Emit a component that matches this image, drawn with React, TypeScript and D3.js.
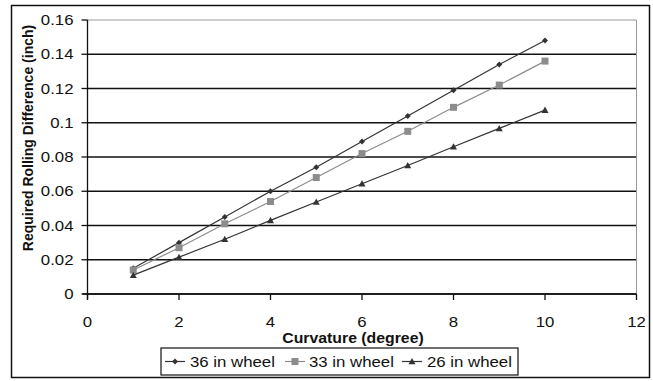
import React from "react";
import * as d3 from "d3";

const curvature = [1, 2, 3, 4, 5, 6, 7, 8, 9, 10];
const wheel36 = [0.015, 0.03, 0.045, 0.06, 0.074, 0.089, 0.104, 0.119, 0.134, 0.148];
const wheel33 = [0.014, 0.027, 0.041, 0.054, 0.068, 0.082, 0.095, 0.109, 0.122, 0.136];
const wheel26 = [0.011, 0.0215, 0.032, 0.043, 0.0537, 0.0644, 0.075, 0.086, 0.0967, 0.1074];
const xTicks = [0, 2, 4, 6, 8, 10, 12];
const yTicks = [0, 0.02, 0.04, 0.06, 0.08, 0.1, 0.12, 0.14, 0.16];
const seriesNames = ["36 in wheel", "33 in wheel", "26 in wheel"];

const W = 653;
const H = 381;
const L = 87.5, R = 636.5, T = 20, B = 294;
const SX = 1.2;

function HText(props: {
  x: number;
  y: number;
  anchor?: string;
  size?: number;
  bold?: boolean;
  sx?: number;
  children: React.ReactNode;
}) {
  const { x, y, anchor = "start", size = 14, bold = false, sx = SX, children } = props;
  return (
    <text
      transform={`translate(${x},${y}) scale(${sx},1)`}
      fontSize={size}
      fontWeight={bold ? "bold" : "normal"}
      textAnchor={anchor}
      fill="#111"
    >
      {children}
    </text>
  );
}

export default function App() {
  const x = d3.scaleLinear().domain([0, 12]).range([L, R]);
  const y = d3.scaleLinear().domain([0, 0.16]).range([B, T]);
  const line = d3
    .line<[number, number]>()
    .x((d) => x(d[0]))
    .y((d) => y(d[1]));

  const series = [
    { name: seriesNames[0], vals: wheel36, color: "#333", marker: "diamond" },
    { name: seriesNames[1], vals: wheel33, color: "#8c8c8c", marker: "square" },
    { name: seriesNames[2], vals: wheel26, color: "#333", marker: "triangle" },
  ];

  const marker = (type: string, cx: number, cy: number, color: string, k: string) => {
    if (type === "diamond") {
      const s = 3;
      return <path key={k} d={`M${cx},${cy - s}L${cx + s},${cy}L${cx},${cy + s}L${cx - s},${cy}Z`} fill={color} />;
    }
    if (type === "square") {
      const s = 3.5;
      return <rect key={k} x={cx - s} y={cy - s} width={2 * s} height={2 * s} fill={color} />;
    }
    const s = 3.5;
    return <path key={k} d={`M${cx},${cy - s}L${cx + s},${cy + s * 0.8}L${cx - s},${cy + s * 0.8}Z`} fill={color} />;
  };

  const font = "Liberation Sans, Arial, sans-serif";
  const legendItems = [
    { x: 165, tx: 190 },
    { x: 285, tx: 309 },
    { x: 402, tx: 427 },
  ];

  return (
    <svg width={W} height={H} style={{ position: "absolute", left: 0, top: 0 }} fontFamily={font}>
      <rect x={0} y={0} width={W} height={H} fill="#fff" />
      <rect x={11.5} y={5.5} width={638} height={372} fill="none" stroke="#111" strokeWidth={1.5} />
      {yTicks.map((t, i) => (
        <line
          key={"g" + i}
          x1={L}
          x2={R}
          y1={y(t)}
          y2={y(t)}
          stroke={t === 0.16 ? "#999" : "#111"}
          strokeWidth={t === 0.16 ? 1 : 1.4}
        />
      ))}
      <line x1={R} x2={R} y1={T} y2={B} stroke="#999" strokeWidth={1} />
      <line x1={L} x2={L} y1={T} y2={B + 5} stroke="#111" strokeWidth={1.3} />
      <line x1={L - 5} x2={R} y1={B} y2={B} stroke="#111" strokeWidth={1.4} />
      {yTicks.map((t, i) => (
        <g key={"yt" + i}>
          <line x1={L - 6} x2={L} y1={y(t)} y2={y(t)} stroke="#111" strokeWidth={1.3} />
          <HText x={L - 14} y={y(t) + 5} anchor="end">
            {String(t)}
          </HText>
        </g>
      ))}
      {xTicks.map((t, i) => (
        <g key={"xt" + i}>
          <line x1={x(t)} x2={x(t)} y1={B} y2={B + 6} stroke="#111" strokeWidth={1.3} />
          <HText x={x(t)} y={327} anchor="middle">
            {String(t)}
          </HText>
        </g>
      ))}
      <HText x={353} y={343} anchor="middle" bold sx={1.13}>
        Curvature (degree)
      </HText>
      <text
        transform={`translate(33,138) rotate(-90)`}
        fontSize={14}
        fontWeight="bold"
        textAnchor="middle"
        fill="#111"
      >
        Required Rolling Difference (inch)
      </text>
      {series.map((s, si) => (
        <g key={"s" + si}>
          <path
            d={line(curvature.map((c, i) => [c, s.vals[i]] as [number, number])) || ""}
            fill="none"
            stroke={s.color}
            strokeWidth={1.2}
          />
          {curvature.map((c, i) => marker(s.marker, x(c), y(s.vals[i]), s.color, `m${si}-${i}`))}
        </g>
      ))}
      <rect x={161} y={348} width={357} height={27} fill="#fff" stroke="#111" strokeWidth={1.2} />
      {series.map((s, si) => (
        <g key={"l" + si}>
          <line x1={legendItems[si].x} x2={legendItems[si].x + 20} y1={361.5} y2={361.5} stroke={s.color} strokeWidth={1.2} />
          {marker(s.marker, legendItems[si].x + 10, 361.5, s.color, "lm" + si)}
          <HText x={legendItems[si].tx} y={367}>
            {s.name}
          </HText>
        </g>
      ))}
    </svg>
  );
}
